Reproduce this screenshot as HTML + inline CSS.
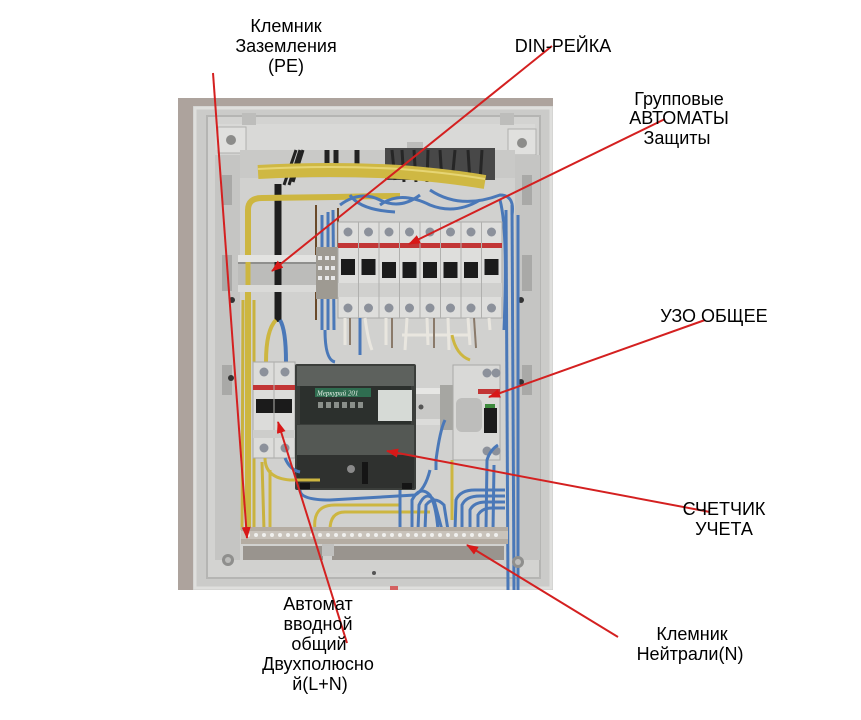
<!DOCTYPE html>
<html><head><meta charset="utf-8">
<style>
html,body{margin:0;padding:0;background:#fff;width:861px;height:720px;overflow:hidden}
svg{display:block}
text{font-family:"Liberation Sans",Arial,sans-serif;font-size:18px;fill:#000}
</style></head><body>
<svg width="861" height="720" viewBox="0 0 861 720" xmlns="http://www.w3.org/2000/svg">
<defs>
<marker id="ah" markerWidth="12" markerHeight="9" refX="11" refY="4.5" orient="auto" markerUnits="userSpaceOnUse">
<path d="M0,0 L12,4.5 L0,9 z" fill="#d81818"/>
</marker>
</defs>
<rect width="861" height="720" fill="#fff"/>

<!-- ============ PHOTO ============ -->
<rect x="178" y="98" width="375" height="492" fill="#ada39d"/>
<!-- panel frame -->
<rect x="193" y="106" width="360" height="484" fill="#cbcbc9"/>
<rect x="195" y="108" width="356" height="480" fill="none" stroke="#dfdfdd" stroke-width="3"/>
<rect x="207" y="116" width="333" height="462" fill="#d3d3d1" stroke="#b5b5b3" stroke-width="2"/>
<!-- top bar & ears -->
<rect x="215" y="124" width="320" height="26" fill="#d9d9d7"/>
<rect x="218" y="127" width="28" height="26" fill="#e0e0de" stroke="#b0b0ae"/>
<circle cx="231" cy="140" r="5" fill="#8c8c8a"/>
<rect x="508" y="129" width="28" height="26" fill="#e0e0de" stroke="#b0b0ae"/>
<circle cx="522" cy="143" r="5" fill="#8c8c8a"/>
<rect x="242" y="113" width="14" height="12" fill="#bdbdbb"/>
<rect x="500" y="113" width="14" height="12" fill="#bdbdbb"/>
<rect x="407" y="142" width="16" height="10" fill="#bcbcba"/>
<!-- side rails -->
<rect x="215" y="155" width="25" height="405" fill="#c5c5c3"/>
<rect x="515" y="155" width="25" height="405" fill="#c5c5c3"/>
<rect x="222" y="175" width="10" height="30" fill="#a9a9a7"/>
<rect x="222" y="255" width="10" height="36" fill="#a9a9a7"/>
<rect x="222" y="365" width="10" height="30" fill="#a9a9a7"/>
<rect x="522" y="175" width="10" height="30" fill="#a9a9a7"/>
<rect x="522" y="255" width="10" height="36" fill="#a9a9a7"/>
<rect x="522" y="365" width="10" height="30" fill="#a9a9a7"/>
<circle cx="232" cy="300" r="3" fill="#333"/>
<circle cx="521" cy="300" r="3" fill="#333"/>
<circle cx="231" cy="378" r="3" fill="#333"/>
<circle cx="521" cy="382" r="3" fill="#333"/>
<!-- interior -->
<rect x="240" y="150" width="275" height="423" fill="#d1d1cf"/>
<!-- top cable entry -->
<rect x="240" y="150" width="275" height="28" fill="#c9c9c7"/>
<rect x="385" y="148" width="110" height="32" fill="#484848"/>
<path d="M392 150 L395 180 M402 150 L404 182 M414 150 L416 182 M428 150 L427 182 M440 150 L442 182 M455 150 L452 182 M468 150 L470 182 M482 150 L480 182" stroke="#262626" stroke-width="3"/>
<path d="M327 150 L327 172 M336 150 L336 172 M357 150 L357 172" stroke="#222" stroke-width="5"/>
<path d="M296 150 L284 185 M300 150 L289 185 M303 150 L293 182" stroke="#222" stroke-width="3"/>
<!-- black cable -->
<path d="M278 184 L278 322" stroke="#1e1e1e" stroke-width="7" fill="none"/>
<path d="M276 320 Q266 330 266 362" stroke="#cdb640" stroke-width="4" fill="none"/>
<path d="M280 320 Q286 330 286 362" stroke="#4a78b8" stroke-width="4" fill="none"/>
<!-- yellow bundle -->
<path d="M258 172 Q330 168 400 172 Q450 176 485 182" stroke="#cfb843" stroke-width="14" fill="none"/>
<path d="M258 169 Q330 165 400 169 Q450 173 485 179" stroke="#e6d574" stroke-width="2" fill="none"/>
<path d="M248 530 L248 210 Q248 198 262 198 L335 197 Q370 196 400 196" stroke="#cdb640" stroke-width="6" fill="none"/>
<path d="M242 530 L243 300 M254 530 L254 300" stroke="#c9b23e" stroke-width="3" fill="none"/>
<!-- blue wires top -->
<g stroke="#4a78b8" stroke-width="3" fill="none">
<path d="M322 215 L322 330"/><path d="M328 212 L328 330"/><path d="M333 210 L334 330"/>
<path d="M340 205 Q360 190 380 200 Q400 210 420 195"/>
<path d="M380 205 Q400 190 430 205 Q455 215 480 200"/>
<path d="M430 190 Q460 210 500 195 Q515 195 512 215"/>
<path d="M506 210 L508 590"/><path d="M512 205 L514 590"/><path d="M518 215 L518 590"/>
<path d="M500 200 Q508 230 504 330"/>
<path d="M350 195 Q360 210 395 212"/>
</g>
<path d="M316 205 L316 320 M338 208 L338 250" stroke="#6a4a2a" stroke-width="2"/>
<!-- DIN rail left -->
<rect x="238" y="255" width="80" height="37" fill="#bcbcba"/>
<rect x="238" y="255" width="80" height="7" fill="#e3e3e1"/>
<rect x="238" y="285" width="80" height="7" fill="#dadad8"/>
<rect x="238" y="262" width="80" height="2" fill="#8f8f8d"/>
<path d="M278 262 L278 285" stroke="#1e1e1e" stroke-width="7"/>
<path d="M248 262 L248 285" stroke="#cdb640" stroke-width="5"/>
<!-- terminal block -->
<rect x="316" y="247" width="22" height="52" fill="#9e9a92"/>
<g fill="#e8e8e8"><rect x="318" y="256" width="4" height="4"/><rect x="325" y="256" width="4" height="4"/><rect x="331" y="256" width="4" height="4"/><rect x="318" y="266" width="4" height="4"/><rect x="325" y="266" width="4" height="4"/><rect x="331" y="266" width="4" height="4"/><rect x="318" y="276" width="4" height="4"/><rect x="325" y="276" width="4" height="4"/><rect x="331" y="276" width="4" height="4"/></g>
<!-- group breakers -->
<rect x="338" y="222" width="164" height="96" fill="#dededc" stroke="#a9a9a7"/>
<rect x="338" y="243" width="164" height="5" fill="#c23535"/>
<rect x="338" y="283" width="164" height="14" fill="#d0d0ce"/>
<g stroke="#b0b0ae" stroke-width="1">
<path d="M358.5 222 V318 M379 222 V318 M399.5 222 V318 M420 222 V318 M440.5 222 V318 M461 222 V318 M481.5 222 V318"/>
</g>
<g fill="#8c919b">
<circle cx="348" cy="232" r="4.5"/><circle cx="368.5" cy="232" r="4.5"/><circle cx="389" cy="232" r="4.5"/><circle cx="409.5" cy="232" r="4.5"/><circle cx="430" cy="232" r="4.5"/><circle cx="450.5" cy="232" r="4.5"/><circle cx="471" cy="232" r="4.5"/><circle cx="491.5" cy="232" r="4.5"/>
<circle cx="348" cy="308" r="4.5"/><circle cx="368.5" cy="308" r="4.5"/><circle cx="389" cy="308" r="4.5"/><circle cx="409.5" cy="308" r="4.5"/><circle cx="430" cy="308" r="4.5"/><circle cx="450.5" cy="308" r="4.5"/><circle cx="471" cy="308" r="4.5"/><circle cx="491.5" cy="308" r="4.5"/>
</g>
<g fill="#1b1b1b">
<rect x="341" y="259" width="14" height="16"/><rect x="361.5" y="259" width="14" height="16"/><rect x="382" y="262" width="14" height="16"/><rect x="402.5" y="262" width="14" height="16"/><rect x="423" y="262" width="14" height="16"/><rect x="443.5" y="262" width="14" height="16"/><rect x="464" y="262" width="14" height="16"/><rect x="484.5" y="259" width="14" height="16"/>
</g>
<!-- wires below breakers -->
<g stroke="#e9e6df" stroke-width="3" fill="none">
<path d="M345 318 L345 345"/><path d="M365 318 Q368 340 372 350"/><path d="M386 318 L386 345"/><path d="M407 318 L405 350"/><path d="M427 318 L428 345"/><path d="M448 318 L449 350"/><path d="M468 318 L470 345"/><path d="M489 318 L490 330"/>
<path d="M402 335 L470 335"/>
</g>
<g stroke="#8a7a6a" stroke-width="2" fill="none">
<path d="M350 318 L350 345"/><path d="M392 318 L392 348"/><path d="M434 318 L434 348"/><path d="M474 318 L476 348"/>
</g>
<path d="M360 318 L360 355" stroke="#4a78b8" stroke-width="3"/>
<path d="M325 330 Q325 360 335 362" stroke="#4a78b8" stroke-width="3" fill="none"/>
<path d="M452 335 Q456 355 470 360" stroke="#cdb640" stroke-width="3" fill="none"/>
<!-- right DIN rail -->
<rect x="414" y="388" width="42" height="37" fill="#c9c9c7"/>
<rect x="414" y="388" width="42" height="6" fill="#e6e6e4"/>
<rect x="414" y="419" width="42" height="6" fill="#dcdcda"/>
<circle cx="421" cy="407" r="2.5" fill="#555"/>
<rect x="440" y="385" width="14" height="45" fill="#a6a6a2"/>
<!-- input breaker -->
<rect x="253" y="362" width="42" height="96" fill="#dcdcda" stroke="#a9a9a7"/>
<rect x="253" y="385" width="42" height="5" fill="#c23535"/>
<circle cx="264" cy="372" r="4.5" fill="#8c919b"/><circle cx="285" cy="372" r="4.5" fill="#8c919b"/>
<circle cx="264" cy="448" r="4.5" fill="#8c919b"/><circle cx="285" cy="448" r="4.5" fill="#8c919b"/>
<rect x="256" y="399" width="36" height="14" fill="#1b1b1b"/>
<path d="M274 362 V458" stroke="#b0b0ae"/>
<rect x="253" y="430" width="42" height="8" fill="#cdcdcb"/>
<!-- meter -->
<rect x="295" y="364" width="121" height="126" fill="#3b3e3b" rx="2"/>
<rect x="297" y="366" width="117" height="20" fill="#5d615d"/>
<rect x="300" y="386" width="111" height="38" fill="#2c302d"/>
<rect x="315" y="388" width="56" height="9" fill="#2f6d50"/>
<text x="317" y="395.5" style="font-size:7px;fill:#e8f0e8;font-style:italic;font-family:'Liberation Serif',serif">Меркурий 201</text>
<g fill="#8a8f8a"><rect x="318" y="402" width="5" height="6"/><rect x="326" y="402" width="5" height="6"/><rect x="334" y="402" width="5" height="6"/><rect x="342" y="402" width="5" height="6"/><rect x="350" y="402" width="5" height="6"/><rect x="358" y="402" width="5" height="6"/></g>
<rect x="378" y="390" width="34" height="31" fill="#d6dad6"/>
<rect x="297" y="425" width="117" height="30" fill="#545854"/>
<rect x="297" y="455" width="117" height="33" fill="#2f312f"/>
<circle cx="351" cy="469" r="4" fill="#8a8a8a"/>
<rect x="362" y="462" width="6" height="22" fill="#151515"/>
<rect x="300" y="483" width="10" height="6" fill="#151515"/><rect x="402" y="483" width="10" height="6" fill="#151515"/>
<!-- УЗО -->
<rect x="453" y="365" width="47" height="95" fill="#d9d9d7" stroke="#a9a9a7"/>
<circle cx="487" cy="373" r="4.5" fill="#8c919b"/><circle cx="496" cy="373" r="4.5" fill="#8c919b"/>
<circle cx="487" cy="451" r="4.5" fill="#8c919b"/><circle cx="496" cy="451" r="4.5" fill="#8c919b"/>
<rect x="478" y="389" width="22" height="5" fill="#c23535"/>
<rect x="456" y="398" width="26" height="34" fill="#bdbdbb" rx="6"/>
<rect x="484" y="408" width="13" height="25" fill="#1b1b1b"/>
<rect x="485" y="404" width="10" height="4" fill="#3d8a3d"/>
<!-- wires under meter -->
<g fill="none" stroke-width="3">
<path d="M265 458 Q265 478 290 480 L320 480" stroke="#cdb640"/>
<path d="M285 458 Q290 470 300 472" stroke="#4a78b8"/>
<path d="M300 490 Q300 500 330 500 L415 495 Q425 490 430 470" stroke="#4a78b8"/>
<path d="M315 530 Q312 505 335 505 L400 505" stroke="#cdb640"/>
<path d="M330 530 Q330 512 345 512 L430 512" stroke="#cdb640"/>
<path d="M270 530 L270 470" stroke="#cdb640"/>
<path d="M264 530 L262 462" stroke="#c9b23e"/>
<path d="M412 530 L412 500 Q420 485 430 495 Q436 505 438 530" stroke="#4a78b8"/>
<path d="M418 530 L419 505 Q426 490 434 500 L442 530" stroke="#4a78b8"/>
<path d="M425 530 L426 505 Q434 495 444 505 L448 530" stroke="#4a78b8"/>
<path d="M455 530 L456 500 Q460 490 475 490 L505 490" stroke="#4a78b8"/>
<path d="M462 530 L462 505 Q466 496 480 496 L505 496" stroke="#4a78b8"/>
<path d="M470 530 L470 510 Q474 502 486 502 L505 502" stroke="#4a78b8"/>
<path d="M478 530 L478 515 Q482 508 492 508 L505 508" stroke="#4a78b8"/>
<path d="M486 530 L487 460 Q490 450 498 445" stroke="#4a78b8"/>
<path d="M493 530 L494 465" stroke="#4a78b8"/>
<path d="M400 490 L400 530" stroke="#4a78b8"/>
<path d="M436 470 L436 460 Q440 430 445 420" stroke="#4a78b8"/>
<path d="M452 460 L452 520" stroke="#cdb640"/>
</g>
<!-- bottom bus bar -->
<rect x="241" y="527" width="267" height="17" fill="#b4aca2"/>
<rect x="241" y="531" width="267" height="8" fill="#c9c3bb"/>
<g fill="#f0f0ee">
<circle cx="248" cy="535" r="2"/><circle cx="256" cy="535" r="2"/><circle cx="264" cy="535" r="2"/><circle cx="272" cy="535" r="2"/><circle cx="280" cy="535" r="2"/><circle cx="288" cy="535" r="2"/><circle cx="296" cy="535" r="2"/><circle cx="304" cy="535" r="2"/><circle cx="312" cy="535" r="2"/><circle cx="320" cy="535" r="2"/><circle cx="328" cy="535" r="2"/><circle cx="336" cy="535" r="2"/><circle cx="344" cy="535" r="2"/><circle cx="352" cy="535" r="2"/><circle cx="360" cy="535" r="2"/><circle cx="368" cy="535" r="2"/><circle cx="376" cy="535" r="2"/><circle cx="384" cy="535" r="2"/><circle cx="392" cy="535" r="2"/><circle cx="400" cy="535" r="2"/><circle cx="408" cy="535" r="2"/><circle cx="416" cy="535" r="2"/><circle cx="424" cy="535" r="2"/><circle cx="432" cy="535" r="2"/><circle cx="440" cy="535" r="2"/><circle cx="448" cy="535" r="2"/><circle cx="456" cy="535" r="2"/><circle cx="464" cy="535" r="2"/><circle cx="472" cy="535" r="2"/><circle cx="480" cy="535" r="2"/><circle cx="488" cy="535" r="2"/><circle cx="496" cy="535" r="2"/>
</g>
<rect x="243" y="546" width="80" height="14" fill="#99948e"/>
<rect x="332" y="546" width="172" height="14" fill="#99948e"/>
<rect x="322" y="544" width="12" height="12" fill="#c0c0be"/>
<circle cx="228" cy="560" r="6" fill="#8f8f8d"/><circle cx="228" cy="560" r="3" fill="#bdbdbb"/>
<circle cx="518" cy="562" r="6" fill="#8f8f8d"/><circle cx="518" cy="562" r="3" fill="#bdbdbb"/>
<circle cx="374" cy="573" r="2" fill="#555"/>
<rect x="390" y="586" width="8" height="4" fill="#d46060"/>

<!-- ============ RED POINTERS ============ -->
<g stroke="#d42020" stroke-width="2" fill="none" marker-end="url(#ah)">
<line x1="213" y1="73" x2="247" y2="538"/>
<line x1="552" y1="46" x2="272" y2="271"/>
<line x1="665" y1="119" x2="409" y2="244"/>
<line x1="705" y1="320" x2="489" y2="397"/>
<line x1="710" y1="512" x2="387" y2="451"/>
<line x1="347" y1="643" x2="278" y2="422"/>
<line x1="618" y1="637" x2="467" y2="545"/>
</g>

<!-- ============ LABELS ============ -->
<g text-anchor="middle">
<text x="286" y="32">Клемник</text>
<text x="286" y="52">Заземления</text>
<text x="286" y="72">(PE)</text>
<text x="563" y="52">DIN-РЕЙКА</text>
<text x="679" y="105">Групповые</text>
<text x="679" y="124">АВТОМАТЫ</text>
<text x="677" y="144">Защиты</text>
<text x="714" y="322">УЗО ОБЩЕЕ</text>
<text x="724" y="515">СЧЕТЧИК</text>
<text x="724" y="535">УЧЕТА</text>
<text x="318" y="610">Автомат</text>
<text x="318" y="630">вводной</text>
<text x="319" y="650">общий</text>
<text x="318" y="670">Двухполюсно</text>
<text x="320" y="690">й(L+N)</text>
<text x="692" y="640">Клемник</text>
<text x="690" y="660">Нейтрали(N)</text>
</g>
</svg>
</body></html>
